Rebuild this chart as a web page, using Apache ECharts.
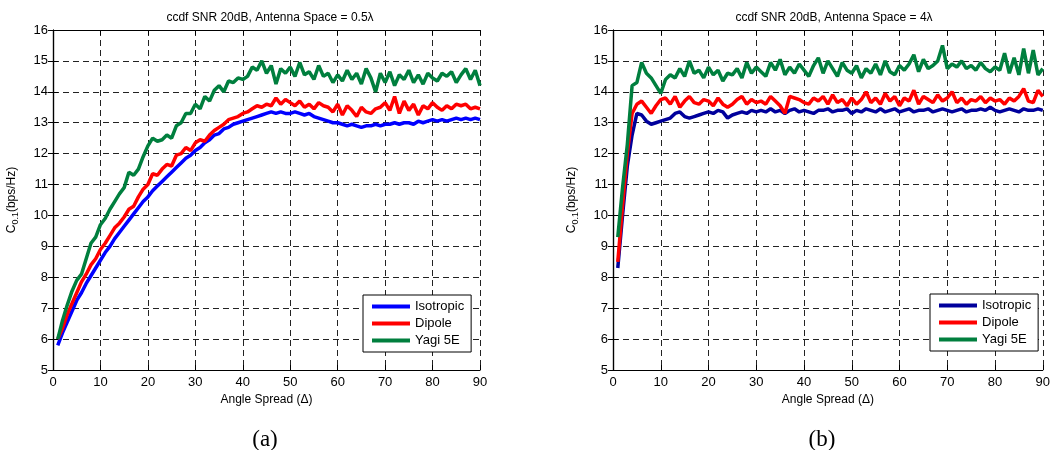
<!DOCTYPE html>
<html>
<head>
<meta charset="utf-8">
<script src="https://cdn.jsdelivr.net/npm/echarts@6/dist/echarts.min.js"></script>
<style>
  html, body { margin: 0; padding: 0; background: #fff; }
  #chart { width: 1053px; height: 450px; }
</style>
</head>
<body>
<div id="chart"></div>
<script>
// angle spread values 1..90
var angles = [];
for (var i = 1; i <= 90; i++) angles.push(i);

var xTicks = [0, 10, 20, 30, 40, 50, 60, 70, 80, 90];
var yTicks = [5, 6, 7, 8, 9, 10, 11, 12, 13, 14, 15, 16];

// (a) antenna space 0.5 lambda
var isoA = [
  5.8, 6.2, 6.55, 6.9, 7.25, 7.5, 7.8, 8.05, 8.3, 8.55,
  8.8, 9.0, 9.25, 9.45, 9.65, 9.85, 10.05, 10.25, 10.45, 10.6,
  10.8, 10.95, 11.1, 11.25, 11.4, 11.55, 11.7, 11.85, 11.95, 12.1,
  12.2, 12.35, 12.45, 12.6, 12.65, 12.8, 12.85, 12.95, 13.0, 13.05,
  13.1, 13.15, 13.2, 13.25, 13.3, 13.35, 13.3, 13.35, 13.3, 13.3,
  13.35, 13.3, 13.25, 13.3, 13.2, 13.15, 13.1, 13.05, 13.0, 13.0,
  12.95, 12.9, 12.95, 12.9, 12.85, 12.9, 12.9, 12.95, 12.9, 12.95,
  12.95, 13.0, 12.95, 13.0, 13.0, 12.95, 13.05, 13.0, 13.05, 13.1,
  13.05, 13.1, 13.05, 13.1, 13.15, 13.1, 13.15, 13.1, 13.15, 13.1
];
var dipA = [
  6.0, 6.35, 6.8, 7.15, 7.5, 7.85, 8.1, 8.4, 8.6, 8.9,
  9.1, 9.35, 9.6, 9.75, 9.95, 10.2, 10.3, 10.6, 10.85, 11.0,
  11.35, 11.3, 11.5, 11.65, 11.6, 11.95, 12.0, 12.2, 12.1, 12.35,
  12.45, 12.4, 12.6, 12.75, 12.85, 12.95, 13.1, 13.15, 13.2, 13.3,
  13.35, 13.45, 13.55, 13.5, 13.6, 13.55, 13.8, 13.6, 13.75, 13.65,
  13.55, 13.7, 13.5, 13.6, 13.45, 13.65, 13.55, 13.5, 13.35, 13.6,
  13.25, 13.55, 13.4, 13.2, 13.5, 13.35, 13.3, 13.45, 13.5, 13.65,
  13.4, 13.85, 13.3, 13.7, 13.4, 13.6, 13.25, 13.55, 13.45, 13.65,
  13.5, 13.4, 13.55, 13.45, 13.6, 13.55, 13.6, 13.45, 13.5, 13.45
];
var yagiA = [
  6.0, 6.6, 7.1, 7.55, 7.9, 8.1, 8.6, 9.1, 9.3, 9.7,
  9.9, 10.2, 10.45, 10.7, 10.9, 11.4, 11.3, 11.5, 11.9, 12.25,
  12.5, 12.4, 12.45, 12.6, 12.5, 12.9, 13.0, 13.3, 13.3, 13.6,
  13.45, 13.85, 13.7, 14.05, 14.2, 14.0, 14.35, 14.3, 14.45, 14.4,
  14.5, 14.8, 14.7, 15.0, 14.6, 14.85, 14.25, 14.75, 14.6, 14.8,
  14.5, 14.95, 14.55, 14.65, 14.4, 14.85, 14.5, 14.6, 14.3, 14.55,
  14.35, 14.7, 14.4, 14.6, 14.25, 14.75, 14.45, 14.0, 14.6, 14.3,
  14.65, 14.2, 14.55, 14.4, 14.7, 14.3, 14.55, 14.25, 14.6, 14.45,
  14.35, 14.6, 14.5, 14.65, 14.3, 14.55, 14.75, 14.4, 14.7, 14.2
];

// (b) antenna space 4 lambda
var isoB = [
  8.3, 10.0, 11.6, 12.6, 13.3, 13.25, 13.05, 12.95, 13.0, 13.05,
  13.1, 13.15, 13.3, 13.35, 13.2, 13.15, 13.2, 13.25, 13.3, 13.35,
  13.3, 13.4, 13.35, 13.15, 13.25, 13.3, 13.35, 13.3, 13.4, 13.35,
  13.4, 13.35, 13.45, 13.35, 13.4, 13.3, 13.4, 13.45, 13.35, 13.4,
  13.35, 13.3, 13.4, 13.4, 13.45, 13.35, 13.4, 13.4, 13.45, 13.3,
  13.4, 13.35, 13.45, 13.4, 13.35, 13.45, 13.35, 13.4, 13.45, 13.35,
  13.4, 13.45, 13.35, 13.4, 13.4, 13.45, 13.35, 13.4, 13.45, 13.4,
  13.35, 13.4, 13.45, 13.35, 13.4, 13.4, 13.45, 13.4, 13.5, 13.4,
  13.35, 13.4, 13.45, 13.4, 13.35, 13.45, 13.4, 13.4, 13.45, 13.4
];
var dipB = [
  8.5, 10.3, 12.0, 13.3, 13.6, 13.7, 13.5, 13.3, 13.55, 13.75,
  13.8, 13.6, 13.85, 13.5, 13.7, 13.85, 13.65, 13.6, 13.75, 13.7,
  13.55, 13.8, 13.6, 13.5, 13.6, 13.75, 13.85, 13.6, 13.75, 13.65,
  13.7, 13.6, 13.85, 13.7, 13.55, 13.3, 13.85, 13.8, 13.75, 13.65,
  13.6, 13.8, 13.7, 13.85, 13.6, 13.9, 13.65, 13.75, 13.55, 13.8,
  13.6, 13.75, 14.0, 13.65, 13.8, 13.6, 13.95, 13.7, 13.85, 13.55,
  13.8, 13.7, 14.05, 13.6, 13.85, 13.75, 13.65, 13.9, 13.7, 13.8,
  14.0, 13.65, 13.8, 13.6, 13.75, 13.7, 13.85, 13.65, 13.8, 13.7,
  13.75, 13.6, 13.8, 13.7, 13.85, 14.1, 13.7, 13.65, 14.05, 13.85
];
var yagiB = [
  9.3, 10.9, 12.3, 14.2, 14.3, 14.95, 14.6, 14.45, 14.2, 13.95,
  14.4, 14.55, 14.45, 14.75, 14.5, 15.0, 14.6, 14.7, 14.45, 14.8,
  14.55, 14.7, 14.35, 14.6, 14.55, 14.75, 14.45, 14.95, 14.6, 14.8,
  14.65, 14.5, 14.95, 14.7, 15.05, 14.55, 14.8, 14.6, 14.9, 14.7,
  14.5, 14.85, 15.1, 14.6, 15.0, 14.75, 14.5, 14.95, 14.7, 14.6,
  14.85, 14.45, 14.75, 14.6, 14.9, 14.55, 15.0, 14.65, 14.55, 14.85,
  14.7, 14.9, 15.2, 14.65, 15.05, 14.75, 14.85, 15.0, 15.5, 14.75,
  14.9, 14.8, 15.0, 14.75, 14.85, 14.7, 14.95, 14.75, 14.65, 14.8,
  14.7, 15.25, 14.6, 15.1, 14.55, 15.4, 14.6, 15.35, 14.55, 14.75
];

var seriesNames = ['Isotropic', 'Dipole', 'Yagi 5E'];

function pairs(ys) {
  return angles.map(function (x, i) { return [x, ys[i]]; });
}

var font = 'Arial, "Liberation Sans", sans-serif';
var gridLine = { show: true, lineStyle: { color: '#222', width: 1, type: [6, 4] } };
var axLine = { show: true, lineStyle: { color: '#000', width: 1.2 } };
var tick = { show: true, inside: true, length: 5, lineStyle: { color: '#000' } };
var lbl = { color: '#000', fontSize: 13, fontFamily: font };

function xAxes(g) {
  return [
    {
      gridIndex: g, type: 'value', min: xTicks[0], max: xTicks[xTicks.length - 1], interval: 10,
      axisLine: axLine, axisTick: tick, splitLine: gridLine,
      axisLabel: Object.assign({ margin: 6 }, lbl),
      name: 'Angle Spread (\u0394)', nameLocation: 'middle', nameGap: 24,
      nameTextStyle: { color: '#000', fontSize: 12, fontFamily: font }
    },
    {
      gridIndex: g, type: 'value', position: 'top', min: 0, max: 90, interval: 10,
      axisLine: axLine, axisTick: tick, splitLine: { show: false }, axisLabel: { show: false }
    }
  ];
}
function yAxes(g) {
  return [
    {
      gridIndex: g, type: 'value', min: yTicks[0], max: yTicks[yTicks.length - 1], interval: 1,
      axisLine: axLine, axisTick: tick, splitLine: gridLine,
      axisLabel: Object.assign({ margin: 5 }, lbl),
      name: '{a|C}{b|0.1}{a|(bps/Hz)}', nameLocation: 'middle', nameGap: 33, nameRotate: 90,
      nameTextStyle: {
        color: '#000', fontFamily: font,
        rich: {
          a: { fontSize: 12, fontFamily: font, color: '#000', lineHeight: 16 },
          b: { fontSize: 9, fontFamily: font, color: '#000', lineHeight: 16, padding: [8, 0, 0, 0] }
        }
      }
    },
    {
      gridIndex: g, type: 'value', position: 'right', min: 5, max: 16, interval: 1,
      axisLine: axLine, axisTick: tick, splitLine: { show: false }, axisLabel: { show: false }
    }
  ];
}

function line(name, ys, color, g) {
  return {
    name: name, type: 'line', data: pairs(ys),
    xAxisIndex: g * 2, yAxisIndex: g * 2,
    showSymbol: false, symbol: 'none', animation: false,
    lineStyle: { color: color, width: 3.5 }, itemStyle: { color: color },
    z: 3
  };
}

function legend(left, top, names) {
  return {
    data: names, orient: 'vertical', left: left, top: top,
    icon: 'rect', itemWidth: 38, itemHeight: 4, itemGap: 4,
    padding: [5, 7, 5, 9],
    backgroundColor: '#fff', borderColor: '#000', borderWidth: 1,
    textStyle: { color: '#000', fontSize: 13, fontFamily: font },
    formatter: function (n) { return n.replace(' (b)', ''); },
    selectedMode: false
  };
}

var chart = echarts.init(document.getElementById('chart'), null, { renderer: 'canvas' });
chart.setOption({
  backgroundColor: '#fff',
  animation: false,
  title: [
    { text: 'ccdf SNR 20dB, Antenna Space = 0.5\u03bb', left: 265, top: 7, textAlign: 'center',
      textStyle: { fontSize: 12, fontWeight: 'normal', color: '#000', fontFamily: font } },
    { text: 'ccdf SNR 20dB, Antenna Space = 4\u03bb', left: 829, top: 7, textAlign: 'center',
      textStyle: { fontSize: 12, fontWeight: 'normal', color: '#000', fontFamily: font } },
    { text: '(a)', left: 260, top: 423, textAlign: 'center',
      textStyle: { fontSize: 23, fontWeight: 'normal', color: '#000', fontFamily: '"Liberation Serif", "Times New Roman", serif' } },
    { text: '(b)', left: 817, top: 423, textAlign: 'center',
      textStyle: { fontSize: 23, fontWeight: 'normal', color: '#000', fontFamily: '"Liberation Serif", "Times New Roman", serif' } }
  ],
  grid: [
    { left: 53, top: 30, width: 427, height: 340 },
    { left: 613, top: 30, width: 433, height: 340 }
  ],
  xAxis: xAxes(0).concat(xAxes(1)),
  yAxis: yAxes(0).concat(yAxes(1)),
  legend: [
    legend(363, 295, seriesNames),
    legend(930, 294, seriesNames.map(function (n) { return n + ' (b)'; }))
  ],
  series: [
    line('Isotropic', isoA, '#0000ff', 0),
    line('Dipole', dipA, '#ff0000', 0),
    line('Yagi 5E', yagiA, '#007f3e', 0),
    line('Isotropic (b)', isoB, '#00009c', 1),
    line('Dipole (b)', dipB, '#ff0000', 1),
    line('Yagi 5E (b)', yagiB, '#007f3e', 1)
  ]
});
</script>
</body>
</html>
